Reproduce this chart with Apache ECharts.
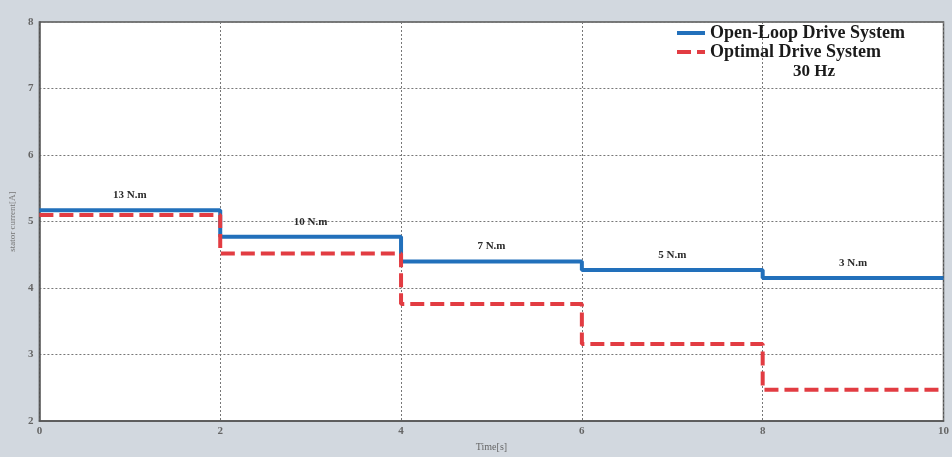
<!DOCTYPE html>
<html>
<head>
<meta charset="utf-8">
<script src="https://cdn.jsdelivr.net/npm/echarts@6/dist/echarts.min.js"></script>
<style>
  html, body { margin: 0; padding: 0; background: #d2d8df; }
  #chart { width: 952px; height: 457px; }
</style>
</head>
<body>
<div id="chart"></div>
<script>
// step breakpoints (s) and current per load interval
const times = [0, 2, 4, 6, 8, 10]
const openLoop = [5.17, 4.77, 4.40, 4.27, 4.15]
const optimal = [5.10, 4.52, 3.76, 3.16, 2.47]
const torques = ['13 N.m', '10 N.m', '7 N.m', '5 N.m', '3 N.m']

function steps(vals) {
  const pts = vals.map((v, i) => [times[i], v])
  pts.push([times[times.length - 1], vals[vals.length - 1]])
  return pts
}

const font = 'Liberation Serif'
const chart = echarts.init(document.getElementById('chart'))

chart.setOption({
  animation: false,
  grid: {
    left: 38, right: 7, top: 22, bottom: 24,
    show: true,
    backgroundColor: '#fff',
    borderColor: '#555',
    borderWidth: 1.5
  },
  legend: {
    right: 42,
    top: 19,
    orient: 'vertical',
    itemGap: 1,
    itemWidth: 28,
    itemHeight: 16,
    itemStyle: { opacity: 0 },
    lineStyle: { width: 4 },
    formatter: name => '{b|' + name + '}',
    textStyle: {
      rich: {
        b: { fontFamily: font, fontWeight: 'bold', fontSize: 18, color: '#1a1a1a' }
      }
    },
    data: ['Open-Loop Drive System', 'Optimal Drive System']
  },
  graphic: [{
    type: 'text',
    left: 793,
    top: 63,
    style: { text: '30 Hz', font: 'bold 17px "Liberation Serif"', fill: '#1a1a1a' }
  }],
  xAxis: {
    type: 'value',
    min: 0, max: 10, interval: 2,
    name: 'Time[s]',
    nameLocation: 'middle',
    nameGap: 14,
    nameTextStyle: { fontFamily: font, fontSize: 10, color: '#666' },
    axisLine: { lineStyle: { color: '#555', width: 1.5 } },
    axisTick: { show: false },
    axisLabel: { fontFamily: font, fontSize: 11, fontWeight: 'bold', color: '#666', margin: 5 },
    splitLine: { lineStyle: { type: [2, 2], color: '#777', width: 1 } }
  },
  yAxis: {
    type: 'value',
    min: 2, max: 8, interval: 1,
    name: 'stator current[A]',
    nameLocation: 'middle',
    nameGap: 20,
    nameTextStyle: { fontFamily: font, fontSize: 9, color: '#777' },
    axisLine: { show: true, lineStyle: { color: '#555', width: 1.5 } },
    axisTick: { show: false },
    axisLabel: { fontFamily: font, fontSize: 11, fontWeight: 'bold', color: '#666', margin: 6 },
    splitLine: { lineStyle: { type: [2, 2], color: '#777', width: 1 } }
  },
  series: [
    {
      name: 'Open-Loop Drive System',
      type: 'line',
      step: 'end',
      symbol: 'none',
      data: steps(openLoop),
      itemStyle: { color: '#2270bb' },
      lineStyle: { color: '#2270bb', width: 4 },
      markPoint: {
        symbol: 'circle',
        symbolSize: 1,
        itemStyle: { color: 'rgba(0,0,0,0)' },
        label: {
          show: true,
          position: 'top',
          distance: 9,
          fontFamily: font,
          fontWeight: 'bold',
          fontSize: 11,
          color: '#2a2a2a',
          formatter: p => p.name
        },
        data: torques.map((t, i) => ({
          name: t,
          coord: [(times[i] + times[i + 1]) / 2, openLoop[i]]
        }))
      },
      z: 2
    },
    {
      name: 'Optimal Drive System',
      type: 'line',
      step: 'end',
      symbol: 'none',
      data: steps(optimal),
      itemStyle: { color: '#e23c42' },
      lineStyle: { color: '#e23c42', width: 4, type: [14, 6] },
      z: 3
    }
  ]
})
</script>
</body>
</html>
